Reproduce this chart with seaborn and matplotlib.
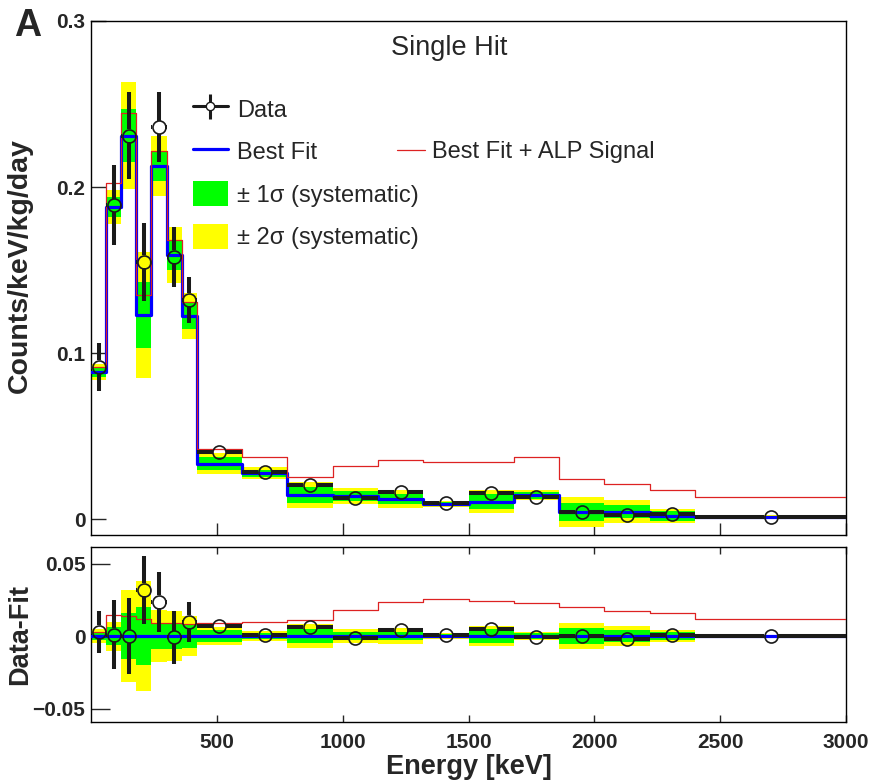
import numpy as np
import matplotlib
matplotlib.use("Agg")
import matplotlib.pyplot as plt
import seaborn as sns
from matplotlib.lines import Line2D
from matplotlib.patches import Patch
from matplotlib.legend_handler import HandlerTuple

# bin edges in keV
edges = [0, 60, 120, 180, 240, 300, 360, 420, 600, 780, 960, 1140,
         1320, 1500, 1680, 1860, 2040, 2220, 2400, 3000]

# measured rate per bin
data = [0.0916, 0.189, 0.231, 0.155, 0.236, 0.158, 0.132, 0.0404, 0.0283, 0.0205,
        0.0126, 0.0163, 0.0098, 0.0155, 0.0135, 0.0044, 0.0024, 0.0028, 0.0014]
stat_err = [0.0145, 0.024, 0.026, 0.0235, 0.021, 0.018, 0.014, 0.004, 0.0015, 0.0015,
            0.0015, 0.0015, 0.0012, 0.0015, 0.0015, 0.0012, 0.0012, 0.001, 0.0008]

# best fit background model
fit = [0.0886, 0.188, 0.231, 0.123, 0.2125, 0.159, 0.1223, 0.0334, 0.0276, 0.0145,
       0.014, 0.0123, 0.0091, 0.0105, 0.0143, 0.0044, 0.0044, 0.0018, 0.0014]

# ALP signal added on top of the fit
alp = [0.003, 0.0145, 0.0135, 0.012, 0.009, 0.009, 0.0086, 0.009, 0.0097, 0.011,
       0.018, 0.0234, 0.0255, 0.024, 0.0228, 0.020, 0.017, 0.0157, 0.0117]

# systematic bands (half widths)
sys1 = [0.003, 0.006, 0.016, 0.02, 0.009, 0.009, 0.008, 0.004, 0.002, 0.005,
        0.003, 0.003, 0.0012, 0.0045, 0.002, 0.0055, 0.004, 0.003, 0.0005]
sys2 = [0.005, 0.010, 0.032, 0.038, 0.018, 0.017, 0.014, 0.0065, 0.0035, 0.008,
        0.005, 0.0055, 0.002, 0.007, 0.003, 0.009, 0.007, 0.004, 0.001]

edges = np.array(edges, dtype=float)
centers = (edges[:-1] + edges[1:]) / 2
half = np.diff(edges) / 2
data, stat_err, fit = np.array(data), np.array(stat_err), np.array(fit)
alp, sys1, sys2 = np.array(alp), np.array(sys1), np.array(sys2)
resid = data - fit


def ext(v):
    return np.append(v, v[-1])


sns.set_theme(style="ticks")
plt.rcParams["font.family"] = ["Liberation Sans", "DejaVu Sans"]
plt.rcParams["axes.linewidth"] = 1.0
plt.rcParams["axes.edgecolor"] = "black"

W, H = 872, 784
fig = plt.figure(figsize=(W / 100, H / 100), dpi=100)
ax = fig.add_axes([91 / W, 1 - 535 / H, 755 / W, 514 / H])
axr = fig.add_axes([91 / W, 1 - 722 / H, 755 / W, 175 / H])

YEL, GRN, BLU, RED = "#ffff00", "#00ff00", "#0000ff", "#dd2222"
R_PX = 6.5  # marker radius in pixels, error bars stop there


def draw_panel(a, base, y, ylim):
    a.fill_between(edges, ext(base - sys2), ext(base + sys2), step="post",
                   color=YEL, lw=0, zorder=1)
    a.fill_between(edges, ext(base - sys1), ext(base + sys1), step="post",
                   color=GRN, lw=0, zorder=2)
    sns.lineplot(x=edges, y=ext(base), drawstyle="steps-post", color=BLU,
                 lw=2.3, ax=a, zorder=3, legend=False)
    sns.lineplot(x=edges, y=ext(base + alp), drawstyle="steps-post", color=RED,
                 lw=0.9, ax=a, zorder=3.5, legend=False)
    a.set_xlim(0, 3000)
    a.set_ylim(*ylim)

    bb = a.get_position()
    gx = R_PX * 3000 / (bb.width * W)
    gy = R_PX * (ylim[1] - ylim[0]) / (bb.height * H)
    m = half > gx
    a.hlines(y[m], (centers - half)[m], (centers - gx)[m], color="k", lw=2.9, zorder=4)
    a.hlines(y[m], (centers + gx)[m], (centers + half)[m], color="k", lw=2.9, zorder=4)
    mv = stat_err > gy
    a.vlines(centers[mv], (y - stat_err)[mv], (y - gy)[mv], color="k", lw=2.9, zorder=4)
    a.vlines(centers[mv], (y + gy)[mv], (y + stat_err)[mv], color="k", lw=2.9, zorder=4)
    a.plot(centers, y, "o", ms=9.4, mfc="none", mec="k", mew=1.2, zorder=5)


draw_panel(ax, fit, data, (-0.0096, 0.3))
draw_panel(axr, np.zeros_like(fit), resid, (-0.0593, 0.0614))

# main panel axes
ax.set_yticks([0, 0.1, 0.2, 0.3])
ax.set_yticklabels(["0", "0.1", "0.2", "0.3"])
ax.set_xticks([500, 1000, 1500, 2000, 2500, 3000])
ax.tick_params(axis="y", direction="in", length=11, width=1, labelsize=15, pad=4)
ax.tick_params(axis="x", direction="in", length=9, width=1, labelbottom=False)
for lab in ax.get_yticklabels():
    lab.set_fontweight("bold")
ax.set_ylabel("Counts/keV/kg/day", fontsize=20.5, fontweight="bold")
ax.yaxis.set_label_coords(-0.077, 0.525)

# residual panel axes
axr.set_yticks([-0.05, 0, 0.05])
axr.set_yticklabels(["\u22120.05", "0", "0.05"])
axr.set_xticks([500, 1000, 1500, 2000, 2500, 3000])
axr.tick_params(axis="y", direction="in", length=14, width=1, labelsize=15, pad=4)
axr.tick_params(axis="x", direction="in", length=5, width=1, top=True, bottom=True,
                labelsize=15, pad=8)
for lab in axr.get_yticklabels() + axr.get_xticklabels():
    lab.set_fontweight("bold")
axr.set_ylabel("Data-Fit", fontsize=19.5, fontweight="bold")
axr.yaxis.set_label_coords(-0.077, 0.5)
axr.set_xlabel("Energy [keV]", fontsize=19.5, fontweight="bold")
axr.xaxis.set_label_coords(0.5, -0.185)

# title and panel letter
ax.text(0.475, 0.947, "Single Hit", transform=ax.transAxes, ha="center", va="center",
        fontsize=19.5)
fig.text(14 / W, 1 - 8 / H, "A", ha="left", va="top", fontsize=27, fontweight="bold")

# legends
h_data = (Line2D([], [], color="k", lw=2.2),
          Line2D([], [], color="k", marker="|", ms=18, mew=2.2, ls="none"),
          Line2D([], [], marker="o", ms=6, mfc="white", mec="k", mew=1, ls="none"))
h_fit = Line2D([], [], color=BLU, lw=2.3)
h_s1 = Patch(facecolor=GRN, edgecolor="none")
h_s2 = Patch(facecolor=YEL, edgecolor="none")
leg1 = ax.legend([h_data, h_fit, h_s1, h_s2],
                 ["Data", "Best Fit", "\u00b1 1\u03c3 (systematic)", "\u00b1 2\u03c3 (systematic)"],
                 handler_map={tuple: HandlerTuple(ndivide=1, pad=0)},
                 loc="upper left", bbox_to_anchor=(0.135, 0.854), frameon=False,
                 fontsize=17, handlelength=1.48, handleheight=1.27, handletextpad=0.38,
                 labelspacing=0.72, borderpad=0, borderaxespad=0)
ax.add_artist(leg1)
h_alp = Line2D([], [], color=RED, lw=0.9)
ax.legend([h_alp], ["Best Fit + ALP Signal"], loc="center left",
          bbox_to_anchor=(0.405, 0.745), frameon=False, fontsize=17,
          handlelength=1.2, handletextpad=0.3, borderpad=0, borderaxespad=0)

fig.savefig("out.png", dpi=100)
